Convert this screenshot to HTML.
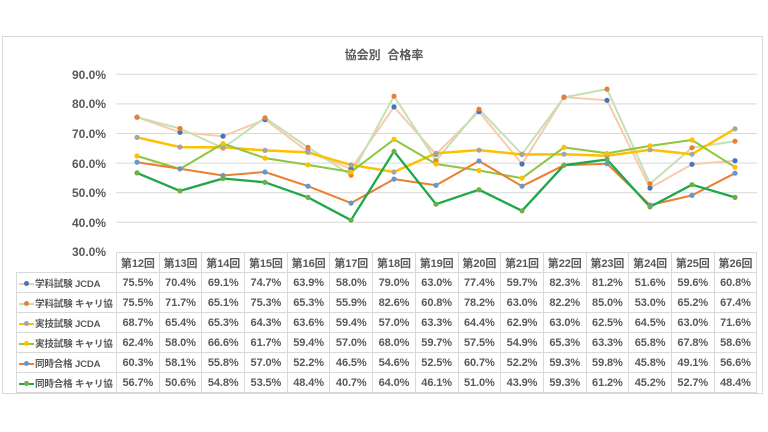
<!DOCTYPE html>
<html><head><meta charset="utf-8"><style>
body{margin:0;background:#fff;width:768px;height:432px;overflow:hidden;position:relative;font-family:"Liberation Sans","Noto Sans CJK JP",sans-serif;}
#frame{position:absolute;left:2px;top:36px;width:761px;height:358px;border:1px solid #d9d9d9;box-sizing:border-box;}
svg{position:absolute;left:0;top:0}
table{position:absolute;left:16px;top:252px;width:741px;table-layout:fixed;border-collapse:collapse;font-size:11px;font-weight:bold;color:#595959;}
td{border:1px solid #d9d9d9;height:19px;padding:0;text-align:center;white-space:nowrap;overflow:hidden;letter-spacing:-0.1px}
td.l{text-align:left;font-size:9.6px;letter-spacing:-0.2px}
tr.h td.l{border:none}
.k{display:inline-block;position:relative;width:15px;height:8px;margin:0 1px 0 2px;vertical-align:middle}
.k i{position:absolute;left:0;top:3px;width:15px;height:2px}
.k b{position:absolute;left:5px;top:1px;width:5px;height:5px;border-radius:50%}
</style></head><body>
<div id="frame"></div>
<svg width="768" height="432">
<text x="384" y="59" text-anchor="middle" font-size="12" font-weight="bold" fill="#595959" font-family="Liberation Sans,Noto Sans CJK JP,sans-serif">協会別&#160;&#160;合格率</text>
<g stroke="#d9d9d9" stroke-width="1">
<line x1="116" x2="757" y1="74.3" y2="74.3"/><line x1="116" x2="757" y1="103.9" y2="103.9"/><line x1="116" x2="757" y1="133.5" y2="133.5"/><line x1="116" x2="757" y1="163.1" y2="163.1"/><line x1="116" x2="757" y1="192.7" y2="192.7"/><line x1="116" x2="757" y1="222.3" y2="222.3"/>
</g>
<g font-size="12" font-weight="bold" fill="#595959" text-anchor="end" font-family="Liberation Sans,sans-serif">
<text x="106" y="79">90.0%</text><text x="106" y="108">80.0%</text><text x="106" y="138">70.0%</text><text x="106" y="168">60.0%</text><text x="106" y="197">50.0%</text><text x="106" y="227">40.0%</text><text x="106" y="256">30.0%</text>
</g>
<g fill="none" stroke-width="2" stroke-linejoin="round">
<polyline stroke="#f8cbad" points="137,117.2 180,132.3 223,136.2 265,119.6 308,151.6 351,169.0 394,106.9 436,154.2 479,111.6 522,164.0 564,97.1 607,100.3 650,188.0 692,164.3 735,160.7"/>
<polyline stroke="#c5e0b4" points="137,117.2 180,128.5 223,148.0 265,117.8 308,147.4 351,175.2 394,96.2 436,160.7 479,109.2 522,154.2 564,97.4 607,89.1 650,183.8 692,147.7 735,141.2"/>
<polyline stroke="#ffc000" stroke-width="2.5" points="137,137.4 180,147.1 223,147.4 265,150.4 308,152.4 351,164.9 394,172.0 436,153.3 479,150.1 522,154.5 564,154.2 607,155.7 650,149.8 692,154.2 735,128.8"/>
<polyline stroke="#8dc63f" points="137,156.0 180,169.0 223,143.6 265,158.1 308,164.9 351,172.0 394,139.4 436,164.0 479,170.5 522,178.2 564,147.4 607,153.3 650,145.9 692,140.0 735,167.2"/>
<polyline stroke="#ed7d31" points="137,162.2 180,168.7 223,175.5 265,172.0 308,186.2 351,203.1 394,179.1 436,185.3 479,161.0 522,186.2 564,165.2 607,163.7 650,205.1 692,195.4 735,173.2"/>
<polyline stroke="#1ea84a" stroke-width="2.3" points="137,172.9 180,190.9 223,178.5 265,182.3 308,197.4 351,220.2 394,151.3 436,204.2 479,189.7 522,210.8 564,165.2 607,159.5 650,206.9 692,184.7 735,197.4"/>
</g>
<g fill="#4472c4"><circle cx="137" cy="117.2" r="2.6"/><circle cx="180" cy="132.3" r="2.6"/><circle cx="223" cy="136.2" r="2.6"/><circle cx="265" cy="119.6" r="2.6"/><circle cx="308" cy="151.6" r="2.6"/><circle cx="351" cy="169.0" r="2.6"/><circle cx="394" cy="106.9" r="2.6"/><circle cx="436" cy="154.2" r="2.6"/><circle cx="479" cy="111.6" r="2.6"/><circle cx="522" cy="164.0" r="2.6"/><circle cx="564" cy="97.1" r="2.6"/><circle cx="607" cy="100.3" r="2.6"/><circle cx="650" cy="188.0" r="2.6"/><circle cx="692" cy="164.3" r="2.6"/><circle cx="735" cy="160.7" r="2.6"/></g>
<g fill="#ed7d31"><circle cx="137" cy="117.2" r="2.6"/><circle cx="180" cy="128.5" r="2.6"/><circle cx="223" cy="148.0" r="2.6"/><circle cx="265" cy="117.8" r="2.6"/><circle cx="308" cy="147.4" r="2.6"/><circle cx="351" cy="175.2" r="2.6"/><circle cx="394" cy="96.2" r="2.6"/><circle cx="436" cy="160.7" r="2.6"/><circle cx="479" cy="109.2" r="2.6"/><circle cx="522" cy="154.2" r="2.6"/><circle cx="564" cy="97.4" r="2.6"/><circle cx="607" cy="89.1" r="2.6"/><circle cx="650" cy="183.8" r="2.6"/><circle cx="692" cy="147.7" r="2.6"/><circle cx="735" cy="141.2" r="2.6"/></g>
<g fill="#a5a5a5"><circle cx="137" cy="137.4" r="2.6"/><circle cx="180" cy="147.1" r="2.6"/><circle cx="223" cy="147.4" r="2.6"/><circle cx="265" cy="150.4" r="2.6"/><circle cx="308" cy="152.4" r="2.6"/><circle cx="351" cy="164.9" r="2.6"/><circle cx="394" cy="172.0" r="2.6"/><circle cx="436" cy="153.3" r="2.6"/><circle cx="479" cy="150.1" r="2.6"/><circle cx="522" cy="154.5" r="2.6"/><circle cx="564" cy="154.2" r="2.6"/><circle cx="607" cy="155.7" r="2.6"/><circle cx="650" cy="149.8" r="2.6"/><circle cx="692" cy="154.2" r="2.6"/><circle cx="735" cy="128.8" r="2.6"/></g>
<g fill="#ffc000"><circle cx="137" cy="156.0" r="2.6"/><circle cx="180" cy="169.0" r="2.6"/><circle cx="223" cy="143.6" r="2.6"/><circle cx="265" cy="158.1" r="2.6"/><circle cx="308" cy="164.9" r="2.6"/><circle cx="351" cy="172.0" r="2.6"/><circle cx="394" cy="139.4" r="2.6"/><circle cx="436" cy="164.0" r="2.6"/><circle cx="479" cy="170.5" r="2.6"/><circle cx="522" cy="178.2" r="2.6"/><circle cx="564" cy="147.4" r="2.6"/><circle cx="607" cy="153.3" r="2.6"/><circle cx="650" cy="145.9" r="2.6"/><circle cx="692" cy="140.0" r="2.6"/><circle cx="735" cy="167.2" r="2.6"/></g>
<g fill="#5b9bd5"><circle cx="137" cy="162.2" r="2.6"/><circle cx="180" cy="168.7" r="2.6"/><circle cx="223" cy="175.5" r="2.6"/><circle cx="265" cy="172.0" r="2.6"/><circle cx="308" cy="186.2" r="2.6"/><circle cx="351" cy="203.1" r="2.6"/><circle cx="394" cy="179.1" r="2.6"/><circle cx="436" cy="185.3" r="2.6"/><circle cx="479" cy="161.0" r="2.6"/><circle cx="522" cy="186.2" r="2.6"/><circle cx="564" cy="165.2" r="2.6"/><circle cx="607" cy="163.7" r="2.6"/><circle cx="650" cy="205.1" r="2.6"/><circle cx="692" cy="195.4" r="2.6"/><circle cx="735" cy="173.2" r="2.6"/></g>
<g fill="#70ad47"><circle cx="137" cy="172.9" r="2.6"/><circle cx="180" cy="190.9" r="2.6"/><circle cx="223" cy="178.5" r="2.6"/><circle cx="265" cy="182.3" r="2.6"/><circle cx="308" cy="197.4" r="2.6"/><circle cx="351" cy="220.2" r="2.6"/><circle cx="394" cy="151.3" r="2.6"/><circle cx="436" cy="204.2" r="2.6"/><circle cx="479" cy="189.7" r="2.6"/><circle cx="522" cy="210.8" r="2.6"/><circle cx="564" cy="165.2" r="2.6"/><circle cx="607" cy="159.5" r="2.6"/><circle cx="650" cy="206.9" r="2.6"/><circle cx="692" cy="184.7" r="2.6"/><circle cx="735" cy="197.4" r="2.6"/></g>
</svg>
<table>
<colgroup><col style="width:100px"><col span="15" style="width:42.7px"></colgroup>
<tr class="h"><td class="l"></td><td>第12回</td><td>第13回</td><td>第14回</td><td>第15回</td><td>第16回</td><td>第17回</td><td>第18回</td><td>第19回</td><td>第20回</td><td>第21回</td><td>第22回</td><td>第23回</td><td>第24回</td><td>第25回</td><td>第26回</td></tr>
<tr><td class="l"><span class="k"><i style="background:#f8cbad"></i><b style="background:#4472c4"></b></span>学科試験 JCDA</td><td>75.5%</td><td>70.4%</td><td>69.1%</td><td>74.7%</td><td>63.9%</td><td>58.0%</td><td>79.0%</td><td>63.0%</td><td>77.4%</td><td>59.7%</td><td>82.3%</td><td>81.2%</td><td>51.6%</td><td>59.6%</td><td>60.8%</td></tr>
<tr><td class="l"><span class="k"><i style="background:#c5e0b4"></i><b style="background:#ed7d31"></b></span>学科試験 キャリ協</td><td>75.5%</td><td>71.7%</td><td>65.1%</td><td>75.3%</td><td>65.3%</td><td>55.9%</td><td>82.6%</td><td>60.8%</td><td>78.2%</td><td>63.0%</td><td>82.2%</td><td>85.0%</td><td>53.0%</td><td>65.2%</td><td>67.4%</td></tr>
<tr><td class="l"><span class="k"><i style="background:#ffc000"></i><b style="background:#a5a5a5"></b></span>実技試験 JCDA</td><td>68.7%</td><td>65.4%</td><td>65.3%</td><td>64.3%</td><td>63.6%</td><td>59.4%</td><td>57.0%</td><td>63.3%</td><td>64.4%</td><td>62.9%</td><td>63.0%</td><td>62.5%</td><td>64.5%</td><td>63.0%</td><td>71.6%</td></tr>
<tr><td class="l"><span class="k"><i style="background:#8dc63f"></i><b style="background:#ffc000"></b></span>実技試験 キャリ協</td><td>62.4%</td><td>58.0%</td><td>66.6%</td><td>61.7%</td><td>59.4%</td><td>57.0%</td><td>68.0%</td><td>59.7%</td><td>57.5%</td><td>54.9%</td><td>65.3%</td><td>63.3%</td><td>65.8%</td><td>67.8%</td><td>58.6%</td></tr>
<tr><td class="l"><span class="k"><i style="background:#ed7d31"></i><b style="background:#5b9bd5"></b></span>同時合格 JCDA</td><td>60.3%</td><td>58.1%</td><td>55.8%</td><td>57.0%</td><td>52.2%</td><td>46.5%</td><td>54.6%</td><td>52.5%</td><td>60.7%</td><td>52.2%</td><td>59.3%</td><td>59.8%</td><td>45.8%</td><td>49.1%</td><td>56.6%</td></tr>
<tr><td class="l"><span class="k"><i style="background:#1ea84a"></i><b style="background:#70ad47"></b></span>同時合格 キャリ協</td><td>56.7%</td><td>50.6%</td><td>54.8%</td><td>53.5%</td><td>48.4%</td><td>40.7%</td><td>64.0%</td><td>46.1%</td><td>51.0%</td><td>43.9%</td><td>59.3%</td><td>61.2%</td><td>45.2%</td><td>52.7%</td><td>48.4%</td></tr>
</table>
</body></html>
